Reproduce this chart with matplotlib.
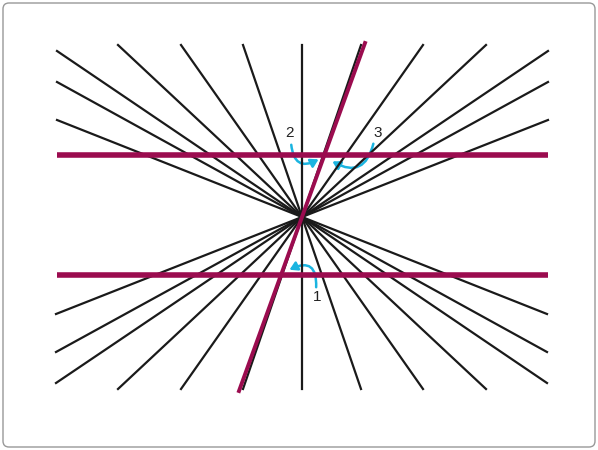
import matplotlib.pyplot as plt
from matplotlib.patches import FancyArrowPatch, FancyBboxPatch

# diagram in pixel units (y downward)
center = (302, 217)
ray_ends = [(118, 45), (181, 45), (243, 45), (302, 45), (361, 45), (423, 45), (486, 45),
            (57, 51), (57, 82), (57, 120), (548, 51), (548, 82), (548, 120)]
red_ray = (365, 43)
red_horiz_y = [155, 275]
x_range = (57, 548)
labels = [("2", 290, 133), ("3", 378, 133), ("1", 317, 297)]
arrows = [((291, 142), (321, 158), 0.8), ((374, 141), (330, 160), -0.7), ((316, 290), (287, 271), 0.9)]

fig = plt.figure(figsize=(5.98, 4.5), dpi=100)
ax = fig.add_axes([0, 0, 1, 1])
ax.set_xlim(0, 598)
ax.set_ylim(450, 0)
ax.axis("off")

ax.add_patch(FancyBboxPatch((3, 3), 592, 444, boxstyle="round,pad=0,rounding_size=6",
                            fc="white", ec="#999999", lw=1))

cx, cy = center
for px, py in ray_ends:
    ax.plot([px, 2 * cx - px], [py, 2 * cy - py], color="#1a1a1a", lw=1.6)

red = "#9b0c4f"
for y in red_horiz_y:
    ax.plot(x_range, [y, y], color=red, lw=4, solid_capstyle="butt")
px, py = red_ray
ax.plot([px, 2 * cx - px], [py, 2 * cy - py], color=red, lw=2.8)

for (x0, y0), (x1, y1), rad in arrows:
    ax.add_patch(FancyArrowPatch((x0, y0), (x1, y1), connectionstyle=f"arc3,rad={rad}",
                                 arrowstyle="-|>,head_length=3,head_width=1.8",
                                 color="#1ab4e0", lw=1.8, mutation_scale=1.5))

for t, x, y in labels:
    ax.text(x, y, t, fontsize=11, ha="center", va="center", color="#222222",
            family="Liberation Sans")

fig.savefig("out.png", dpi=100)
